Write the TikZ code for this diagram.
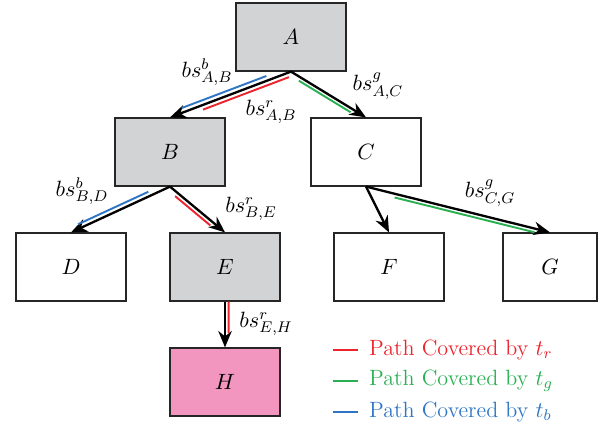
\RequirePackage{fix-cm}
\documentclass[tikz,border=0pt]{standalone}
\usepackage{tikz}
\usetikzlibrary{arrows.meta,calc}

\definecolor{boxgrey}{RGB}{210,211,213}
\definecolor{boxpink}{RGB}{242,150,192}
\definecolor{pathred}{RGB}{236,36,46}
\definecolor{pathgreen}{RGB}{42,176,82}
\definecolor{pathblue}{RGB}{46,118,196}

\tikzset{
  treebox/.style={draw=black!85,line width=0.6pt,minimum width=57.2pt,minimum height=35.4pt,inner sep=0pt},
  greybox/.style={treebox,fill=boxgrey},
  pinkbox/.style={treebox,fill=boxpink},
  treeedge/.style={line width=1.2pt,-{Stealth[length=8.5pt,width=7pt]}},
  bsedge/.style={line width=1pt},
}

% coloured strip beside an edge: colour, from, to, start, end, offset
\newcommand{\bsline}[6]{%
  \draw[bsedge,#1] ($($(#2)!#4!(#3)$)!#6!90:(#3)$) -- ($($(#2)!#5!(#3)$)!#6!90:(#3)$);}

\begin{document}
\begin{tikzpicture}[x=0.52pt,y=-0.52pt,font=\fontsize{11.5}{14}\selectfont]
    \useasboundingbox (0,0) rectangle (607,428);

    \node[greybox] (A) at (291,37) {$A$};
    \node[greybox] (B) at (170,152) {$B$};
    \node[treebox] (C) at (366,152) {$C$};
    \node[treebox] (D) at (71,267) {$D$};
    \node[greybox] (E) at (225,267) {$E$};
    \node[treebox] (F) at (389,267) {$F$};
    \node[treebox,minimum width=48.9pt] (G) at (550,267) {$G$};
    \node[pinkbox] (H) at (225,382) {$H$};

    \draw[treeedge] (A.south) -- (B.north);
    \draw[treeedge] (A.south) -- (C.north);
    \draw[treeedge] (B.south) -- (D.north);
    \draw[treeedge] (B.south) -- (E.north);
    \draw[treeedge] (C.south) -- (F.north);
    \draw[treeedge] (C.south) -- (G.north);
    \draw[treeedge] (E.south) -- (H.north);

    \bsline{pathblue}{A.south}{B.north}{0.19}{0.89}{-2.4pt}
    \bsline{pathred}{A.south}{B.north}{0.03}{0.74}{2.3pt}
    \bsline{pathgreen}{A.south}{C.north}{0.13}{0.82}{-1.9pt}
    \bsline{pathblue}{B.south}{D.north}{0.20}{0.91}{-2.3pt}
    \bsline{pathred}{B.south}{E.north}{0.14}{0.78}{-2.1pt}
    \bsline{pathgreen}{C.south}{G.north}{0.16}{0.92}{-1.9pt}
    \bsline{pathred}{E.south}{H.north}{0}{0.69}{1.9pt}

    \node (lAB) at (207,72) {$bs^{b}_{A,B}$};
    \node (lABr) at (271,112) {$bs^{r}_{A,B}$};
    \node (lAC) at (378,86) {$bs^{g}_{A,C}$};
    \node (lBD) at (82,191) {$bs^{b}_{B,D}$};
    \node (lBE) at (251,209) {$bs^{r}_{B,E}$};
    \node (lCG) at (490,193) {$bs^{g}_{C,G}$};
    \node (lEH) at (266,324) {$bs^{r}_{E,H}$};

    \draw[bsedge,pathred] (333,350) -- (358,350) node[right=2pt,text=pathred] {Path Covered by $t_r$};
    \draw[bsedge,pathgreen] (333,381) -- (358,381) node[right=2pt,text=pathgreen] {Path Covered by $t_g$};
    \draw[bsedge,pathblue] (333,412) -- (358,412) node[right=2pt,text=pathblue] {Path Covered by $t_b$};
\end{tikzpicture}
\end{document}
